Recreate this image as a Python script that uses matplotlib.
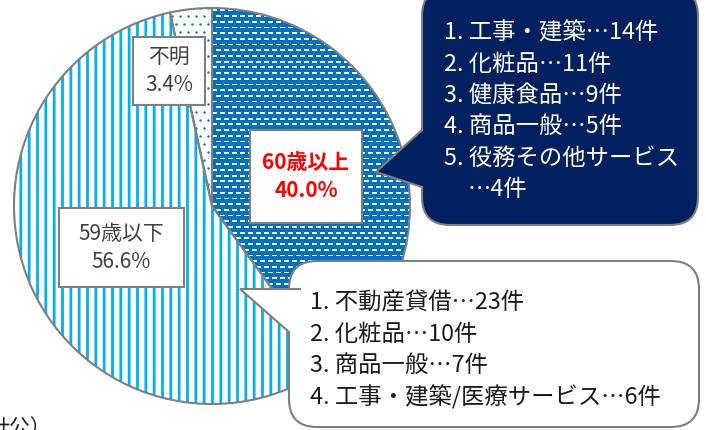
import matplotlib
matplotlib.use("Agg")
import matplotlib.pyplot as plt
import numpy as np
from matplotlib.patches import Rectangle, FancyBboxPatch, Polygon
from matplotlib.collections import PatchCollection

plt.rcParams['font.family'] = ['Noto Sans CJK JP', 'DejaVu Sans']
plt.rcParams['hatch.linewidth'] = 2.0

# data
groups = ['60歳以上', '59歳以下', '不明']
shares = [40.0, 56.6, 3.4]
older_items = ['1. 工事・建築…14件', '2. 化粧品…11件', '3. 健康食品…9件',
               '4. 商品一般…5件', '5. 役務その他サービス', '…4件']
younger_items = ['1. 不動産貸借…23件', '2. 化粧品…10件', '3. 商品一般…7件',
                 '4. 工事・建築/医療サービス…6件']

navy = '#002060'
blue = '#0070C0'
light_blue = '#00B0F0'
gray_edge = '#7f7f7f'

fig = plt.figure(figsize=(7.06, 4.30), dpi=100)
ax = fig.add_axes([0, 0, 1, 1])

# pie in pixel coordinates (y axis points down)
cx, cy, r = 212, 206, 198
wedges, _ = ax.pie(shares, center=(cx, cy), radius=r, startangle=-90, counterclock=True,
                   colors=[blue, 'white', 'white'],
                   wedgeprops=dict(linewidth=0))
wedges[1].set_hatch('||')
wedges[1].set_edgecolor(light_blue)
wedges[1].set_linewidth(0)

# white dashes on the 60+ slice
xs = np.arange(cx - r - 10, cx + r + 10, 8.0)
ys = np.arange(cy - r - 10, cy + r + 10, 5.7)
dashes = []
for i, yy in enumerate(ys):
    shift = 4.0 if i % 2 else 0.0
    for xx in xs:
        dashes.append(Rectangle((xx + shift, yy), 5.0, 1.8))
dash_coll = PatchCollection(dashes, facecolor='white', edgecolor='none', zorder=2)
ax.add_collection(dash_coll)
dash_coll.set_clip_path(wedges[0])

# blue dots on the unknown slice
dot_x, dot_y = [], []
for i, yy in enumerate(np.arange(cy - r, cy + 10, 8.0)):
    shift = 4.0 if i % 2 else 0.0
    for xx in np.arange(cx - 60, cx + 10, 8.0):
        dot_x.append(xx + shift)
        dot_y.append(yy)
dots = ax.scatter(dot_x, dot_y, s=3, color=blue, linewidths=0, zorder=2)
dots.set_clip_path(wedges[2])

# outlines
outline, _ = ax.pie(shares, center=(cx, cy), radius=r, startangle=-90, counterclock=True,
                    colors=['none'] * 3,
                    wedgeprops=dict(linewidth=1.5, edgecolor=gray_edge))
for w in outline:
    w.set_zorder(3)

# label boxes on the pie
label_boxes = [
    ((250, 130, 112, 93), groups[0], shares[0], 'red', 'bold'),
    ((59, 208, 125, 79), groups[1], shares[1], '#404040', 'normal'),
    ((133, 37, 72, 68), groups[2], shares[2], '#404040', 'normal'),
]
for (bx, by, bw, bh), name, val, col, wt in label_boxes:
    ax.add_patch(Rectangle((bx, by), bw, bh, facecolor='white', edgecolor=gray_edge,
                           linewidth=1.5, zorder=4))
    mid_x = bx + bw / 2
    mid_y = by + bh / 2
    ax.text(mid_x, mid_y - 14, name, ha='center', va='center', color=col,
            fontsize=15, fontweight=wt, zorder=5)
    ax.text(mid_x, mid_y + 14, f'{val:.1f}%', ha='center', va='center', color=col,
            fontsize=15, fontweight=wt, zorder=5)


def callout(x0, y0, w, h, tip, base_top, base_bot, face, z):
    ax.add_patch(FancyBboxPatch((x0, y0), w, h, boxstyle='round,pad=0,rounding_size=28',
                                facecolor=face, edgecolor=gray_edge, linewidth=1.5, zorder=z))
    ax.add_patch(Polygon([base_top, tip, base_bot, (base_bot[0] + 6, base_bot[1]),
                          (base_top[0] + 6, base_top[1])],
                         closed=True, facecolor=face, edgecolor='none', zorder=z + 0.1))
    ax.plot([base_top[0], tip[0], base_bot[0]], [base_top[1], tip[1], base_bot[1]],
            color=gray_edge, linewidth=1.5, zorder=z + 0.2, solid_joinstyle='miter')


# dark callout (60 and over)
callout(422, -12, 276, 237, (376, 172), (422, 130), (422, 187), navy, 6)
for i, line in enumerate(older_items):
    x_txt = 468 if i == 5 else 444
    ax.text(x_txt, 33 + i * 31.3, line, ha='left', va='center', color='white',
            fontsize=16.8, zorder=7)

# white callout (59 and under)
callout(289, 261, 410, 166, (240, 289), (300, 289), (289, 332), 'white', 6)
for i, line in enumerate(younger_items):
    ax.text(310, 303 + i * 31.3, line, ha='left', va='center', color='#1a1a1a',
            fontsize=16.8, zorder=7)

# cut-off note at the bottom edge
ax.text(-12, 417, '計公）', ha='left', va='top', color='#1a1a1a', fontsize=15, zorder=7)

ax.set_xlim(0, 706)
ax.set_ylim(430, 0)
ax.set_aspect('auto')
ax.axis('off')

fig.savefig('out.png', dpi=100)
